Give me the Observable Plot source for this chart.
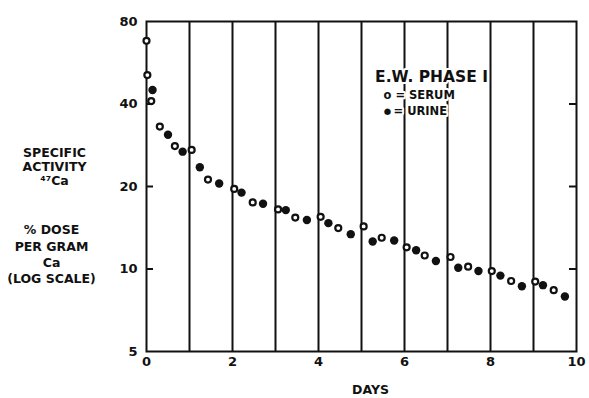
<!DOCTYPE html>
<html>
<head>
<meta charset="utf-8">
<script src="https://cdn.jsdelivr.net/npm/d3@7"></script>
<script src="https://cdn.jsdelivr.net/npm/@observablehq/plot@0.6"></script>
<style>
  html, body { margin: 0; padding: 0; background: #fff; }
  svg { display: block; }
</style>
</head>
<body>
<div id="chart"></div>
<script>
// Serum (open circles): [day, % dose per gram Ca]
const serumDays   = [0.00, 0.02, 0.11, 0.31, 0.66, 1.05, 1.43, 2.04, 2.47, 3.06, 3.46, 4.05, 4.46, 5.05, 5.47, 6.05, 6.47, 7.07, 7.48, 8.03, 8.48, 9.04, 9.47];
const serumValues = [68, 51, 41, 33.1, 28.1, 27.2, 21.2, 19.6, 17.5, 16.5, 15.4, 15.5, 14.1, 14.3, 13.0, 12.0, 11.2, 11.06, 10.2, 9.83, 9.04, 9.0, 8.37];
// Urine (filled circles)
const urineDays   = [0.14, 0.50, 0.84, 1.24, 1.69, 2.21, 2.71, 3.24, 3.73, 4.23, 4.75, 5.26, 5.76, 6.27, 6.73, 7.25, 7.72, 8.23, 8.73, 9.22, 9.73];
const urineValues = [45, 30.9, 26.8, 23.5, 20.5, 19.0, 17.3, 16.4, 15.1, 14.7, 13.4, 12.6, 12.7, 11.7, 10.7, 10.1, 9.83, 9.46, 8.65, 8.73, 7.94];

const xTicks = [0, 2, 4, 6, 8, 10];
const yTicks = [5, 10, 20, 40, 80];
const innerYTicks = [10, 20, 40];
const gridDays = [1, 2, 3, 4, 5, 6, 7, 8, 9];

const serum = serumDays.map((d, i) => ({day: d, value: serumValues[i]}));
const urine = urineDays.map((d, i) => ({day: d, value: urineValues[i]}));

const font = "'DejaVu Sans', sans-serif";
const W = 589, ML = 146, MR = 13;
const frameW = W - ML - MR;
const halo = {stroke: "#fff", strokeWidth: 4, paintOrder: "stroke", lineAnchor: "middle"};

const chart = Plot.plot({
  width: W,
  height: 398,
  marginLeft: ML,
  marginRight: MR,
  marginTop: 21,
  marginBottom: 47,
  style: {fontFamily: font, fontWeight: "bold", background: "#fff", color: "#111"},
  x: {domain: [0, 10]},
  y: {type: "log", domain: [5, 80], axis: null},
  marks: [
    Plot.ruleX(gridDays, {stroke: "#111", strokeWidth: 2}),
    Plot.frame({stroke: "#111", strokeWidth: 2}),
    // inward ticks on the left and right edges
    Plot.tickY(innerYTicks, {y: d => d, insetRight: frameW - 7, stroke: "#111", strokeWidth: 2}),
    Plot.tickY(innerYTicks, {y: d => d, insetLeft: frameW - 7, stroke: "#111", strokeWidth: 2}),
    // y tick labels
    Plot.text(yTicks, {y: d => d, frameAnchor: "left", dx: -9, textAnchor: "end", text: d => String(d), fontSize: 13, fontWeight: "bold", fill: "#111"}),
    Plot.axisX(xTicks, {anchor: "bottom", tickSize: 0, tickPadding: 5, fontSize: 13, fontWeight: "bold", label: null}),
    Plot.dot(urine, {x: "day", y: "value", r: 4.2, fill: "#111", stroke: "none"}),
    Plot.dot(serum, {x: "day", y: "value", r: 3, fill: "#fff", stroke: "#111", strokeWidth: 2.2}),
    // x axis title
    Plot.text(["DAYS"], {frameAnchor: "bottom", dy: 42, dx: 9, fontSize: 12.5, fontWeight: "bold", fill: "#111"}),
    // y axis title blocks
    Plot.text(["SPECIFIC\nACTIVITY\n\u2074\u2077Ca"], {frameAnchor: "left", dx: -92, dy: -20, textAnchor: "middle", lineHeight: 1.15, fontSize: 12.5, fontWeight: "bold", fill: "#111"}),
    Plot.text(["% DOSE\nPER GRAM\nCa\n(LOG SCALE)"], {frameAnchor: "left", dx: -95, dy: 67, textAnchor: "middle", lineHeight: 1.3, fontSize: 12.5, fontWeight: "bold", fill: "#111"}),
    // legend
    Plot.text(["E.W. PHASE I"], {frameAnchor: "top-right", dx: -145, dy: 56, textAnchor: "middle", fontSize: 15.5, fontWeight: "bold", fill: "#111", ...halo}),
    Plot.text(["o = SERUM"], {frameAnchor: "top-right", dx: -193, dy: 74, textAnchor: "start", fontSize: 11.5, fontWeight: "bold", fill: "#111", ...halo}),
    Plot.text(["= URINE"], {frameAnchor: "top-right", dx: -183, dy: 90, textAnchor: "start", fontSize: 11.5, fontWeight: "bold", fill: "#111", ...halo}),
    Plot.text(["\u25CF"], {frameAnchor: "top-right", dx: -189, dy: 89.5, textAnchor: "middle", fontSize: 8.5, fill: "#111", ...halo, strokeWidth: 3})
  ]
});
document.getElementById("chart").appendChild(chart);
</script>
</body>
</html>
